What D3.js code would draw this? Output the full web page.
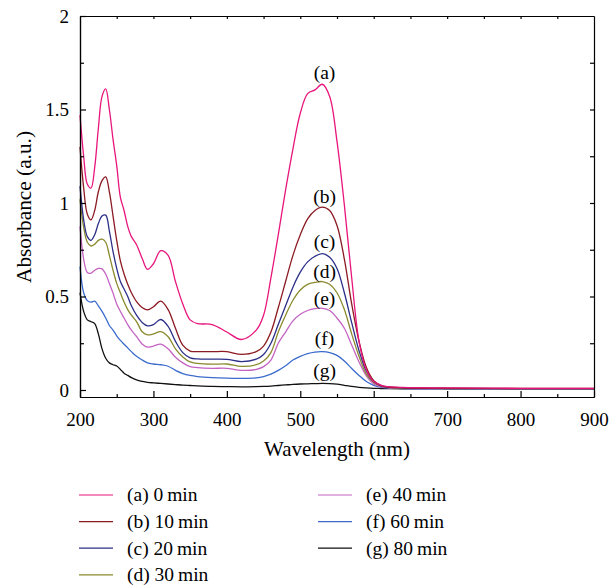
<html>
<script src="https://d3js.org/d3.v7.min.js"></script>
<style>
  body { margin: 0; background: #fff; }
  svg text { font-family: "Liberation Serif", "DejaVu Serif", "Times New Roman", serif !important; }
</style>
<body>
<svg class="chart" width="610" height="586" font-family="Liberation Serif, DejaVu Serif, serif"></svg>
<script>
// wavelength grid (nm) shared by all spectra
var wavelength = [200, 205, 210, 215, 220, 225, 230, 235, 240, 245, 250, 255, 260, 265, 270, 277, 285, 292, 300, 310,
  320, 330, 340, 350, 360, 380, 400, 420, 440, 450, 460, 470, 480, 490, 500, 510, 520, 530, 540, 550,
  560, 570, 580, 590, 600, 610, 620, 640, 700, 800, 900];

// absorbance
var abs0 = [1.47, 1.25, 1.10, 1.08, 1.19, 1.40, 1.57, 1.61, 1.50, 1.34, 1.20, 1.03, 0.96, 0.875, 0.82, 0.777, 0.70, 0.645, 0.675, 0.745,
  0.72, 0.58, 0.46, 0.375, 0.355, 0.35, 0.31, 0.27, 0.32, 0.40, 0.60, 0.83, 1.07, 1.29, 1.48, 1.585, 1.605, 1.635, 1.57, 1.33,
  0.99, 0.60, 0.26, 0.107, 0.045, 0.025, 0.018, 0.014, 0.011, 0.009, 0.009];
var abs10 = [1.30, 1.08, 0.94, 0.91, 0.96, 1.06, 1.12, 1.14, 1.06, 0.93, 0.80, 0.69, 0.62, 0.565, 0.52, 0.473, 0.44, 0.428, 0.445, 0.475,
  0.43, 0.33, 0.24, 0.208, 0.205, 0.205, 0.205, 0.19, 0.205, 0.235, 0.31, 0.44, 0.58, 0.72, 0.83, 0.915, 0.96, 0.978, 0.96, 0.88,
  0.70, 0.46, 0.26, 0.12, 0.05, 0.025, 0.016, 0.012, 0.009, 0.008, 0.008];
var abs20 = [1.09, 0.91, 0.82, 0.80, 0.83, 0.89, 0.93, 0.935, 0.85, 0.74, 0.65, 0.58, 0.54, 0.50, 0.45, 0.40, 0.36, 0.343, 0.35, 0.377,
  0.34, 0.26, 0.20, 0.172, 0.166, 0.165, 0.164, 0.152, 0.165, 0.19, 0.25, 0.35, 0.45, 0.55, 0.63, 0.685, 0.715, 0.729, 0.71, 0.65,
  0.52, 0.36, 0.21, 0.10, 0.045, 0.022, 0.015, 0.011, 0.008, 0.007, 0.007];
var abs30 = [1.02, 0.87, 0.79, 0.77, 0.78, 0.80, 0.807, 0.79, 0.72, 0.64, 0.57, 0.52, 0.47, 0.43, 0.40, 0.366, 0.31, 0.295, 0.30, 0.312,
  0.285, 0.22, 0.177, 0.150, 0.142, 0.138, 0.139, 0.126, 0.135, 0.155, 0.20, 0.31, 0.40, 0.48, 0.535, 0.565, 0.575, 0.58, 0.565, 0.52,
  0.43, 0.30, 0.18, 0.085, 0.04, 0.02, 0.014, 0.01, 0.008, 0.007, 0.007];
var abs40 = [0.875, 0.70, 0.628, 0.625, 0.64, 0.65, 0.648, 0.62, 0.57, 0.518, 0.46, 0.42, 0.385, 0.35, 0.32, 0.286, 0.245, 0.229, 0.235, 0.245,
  0.22, 0.175, 0.145, 0.125, 0.12, 0.116, 0.116, 0.105, 0.11, 0.125, 0.16, 0.25, 0.31, 0.37, 0.405, 0.425, 0.435, 0.437, 0.425, 0.385,
  0.33, 0.24, 0.15, 0.075, 0.032, 0.017, 0.012, 0.009, 0.007, 0.006, 0.006];
var abs60 = [0.66, 0.52, 0.478, 0.47, 0.475, 0.45, 0.42, 0.385, 0.345, 0.32, 0.29, 0.265, 0.245, 0.225, 0.205, 0.18, 0.16, 0.145, 0.139, 0.135,
  0.127, 0.105, 0.088, 0.078, 0.072, 0.066, 0.063, 0.062, 0.065, 0.072, 0.085, 0.105, 0.13, 0.16, 0.18, 0.195, 0.203, 0.205, 0.20, 0.185,
  0.155, 0.115, 0.078, 0.045, 0.025, 0.015, 0.011, 0.008, 0.006, 0.006, 0.006];
var abs80 = [0.52, 0.42, 0.375, 0.365, 0.355, 0.30, 0.22, 0.17, 0.145, 0.135, 0.128, 0.11, 0.09, 0.078, 0.066, 0.054, 0.046, 0.041, 0.038, 0.035,
  0.032, 0.029, 0.026, 0.024, 0.022, 0.019, 0.018, 0.017, 0.018, 0.019, 0.021, 0.024, 0.027, 0.03, 0.032, 0.033, 0.034, 0.035, 0.034, 0.031,
  0.025, 0.019, 0.014, 0.011, 0.009, 0.008, 0.007, 0.006, 0.006, 0.006, 0.006];

var legendNames = ["(a) 0\u2009min", "(b) 10\u2009min", "(c) 20\u2009min", "(d) 30\u2009min", "(e) 40\u2009min", "(f) 60\u2009min", "(g) 80\u2009min"];
var peakLabels = ["(a)", "(b)", "(c)", "(d)", "(e)", "(f)", "(g)"];
var peakLabelY = [1.70, 1.035, 0.795, 0.634, 0.493, 0.279, 0.107];
var peakLabelX = 533;
var colors = ["#e8157c", "#8b1a22", "#2b2f88", "#8a8a2e", "#c463c2", "#3b6bcc", "#111111"];

var xTicks = [200, 300, 400, 500, 600, 700, 800, 900];
var yTicks = [0, 0.5, 1, 1.5, 2];

var series = [abs0, abs10, abs20, abs30, abs40, abs60, abs80];
var FONT = "'Liberation Serif', 'DejaVu Serif', serif";

var svg = d3.select(".chart");
var x = d3.scaleLinear().domain([200, 900]).range([80, 594]);
var y = d3.scaleLinear().domain([-0.0375, 2]).range([397, 16]);

// spectra
var line = d3.line()
  .x(function(d, i) { return x(wavelength[i]); })
  .y(function(d) { return y(d); })
  .curve(d3.curveCatmullRom);

// draw oldest last so (a) sits on top like the original
svg.append("g").selectAll("path").data(series.slice().reverse()).enter()
  .append("path")
    .attr("fill", "none")
    .attr("stroke", function(d, i) { return colors[series.length - 1 - i]; })
    .attr("stroke-width", 1.3)
    .attr("d", line);

// axes (ticks inward)
var minorX = d3.range(250, 900, 100);
var minorY = [0.25, 0.75, 1.25, 1.75];
var allY = d3.range(0, 2.001, 0.25);

function styleAxis(g) {
  g.attr("font-family", FONT);
  g.selectAll("path, line").attr("stroke", "#000").attr("stroke-width", 1.2);
  g.selectAll("text").attr("font-size", 19).attr("fill", "#000").attr("font-family", FONT);
}

svg.append("g").attr("transform", "translate(0,397)")
  .call(d3.axisBottom(x).tickValues(xTicks).tickSizeInner(-6).tickSizeOuter(0).tickPadding(16).tickFormat(d3.format("")))
  .call(styleAxis);
svg.append("g").attr("transform", "translate(0,397)")
  .call(d3.axisBottom(x).tickValues(minorX).tickSizeInner(-3).tickSizeOuter(0).tickFormat(""))
  .call(styleAxis);
svg.append("g").attr("transform", "translate(0,16)")
  .call(d3.axisTop(x).tickValues(d3.range(250, 900, 50)).tickSizeInner(-3).tickSizeOuter(0).tickFormat(""))
  .call(styleAxis);
svg.append("g").attr("transform", "translate(80,0)")
  .call(d3.axisLeft(y).tickValues(yTicks).tickSizeInner(-6).tickSizeOuter(0).tickPadding(11).tickFormat(d3.format("")))
  .call(styleAxis);
svg.append("g").attr("transform", "translate(80,0)")
  .call(d3.axisLeft(y).tickValues(minorY).tickSizeInner(-4).tickSizeOuter(0).tickFormat(""))
  .call(styleAxis);
svg.append("g").attr("transform", "translate(594,0)")
  .call(d3.axisRight(y).tickValues(allY.slice(1, -1)).tickSizeInner(-4).tickSizeOuter(0).tickFormat(""))
  .call(styleAxis);

// axis titles
svg.append("text")
  .attr("x", 337).attr("y", 456)
  .attr("text-anchor", "middle")
  .attr("font-family", FONT)
  .attr("font-size", 21)
  .text("Wavelength (nm)");
svg.append("text")
  .attr("transform", "translate(31,207) rotate(-90)")
  .attr("text-anchor", "middle")
  .attr("font-family", FONT)
  .attr("font-size", 21.3)
  .text("Absorbance (a.u.)");

// peak labels
svg.append("g").selectAll("text").data(peakLabels).enter()
  .append("text")
    .attr("x", x(peakLabelX))
    .attr("y", function(d, i) { return y(peakLabelY[i]); })
    .attr("dy", "0.35em")
    .attr("text-anchor", "middle")
    .attr("font-family", FONT)
    .attr("font-size", 19.5)
    .text(function(d) { return d; });

// legend, two columns
var legend = svg.append("g").selectAll("g").data(legendNames).enter()
  .append("g")
    .attr("transform", function(d, i) {
      var col = i < 4 ? 0 : 1, row = i < 4 ? i : i - 4;
      return "translate(" + (col === 0 ? 79 : 318) + "," + (495 + row * 26.6) + ")";
    });
legend.append("line")
  .attr("x1", 0).attr("x2", 34)
  .attr("stroke", function(d, i) { return colors[i]; })
  .attr("stroke-width", 1.2);
legend.append("text")
  .attr("x", 48).attr("dy", "0.33em")
  .attr("font-family", FONT)
  .attr("font-size", 19.5)
  .text(function(d) { return d; });
</script>
</body>
</html>
